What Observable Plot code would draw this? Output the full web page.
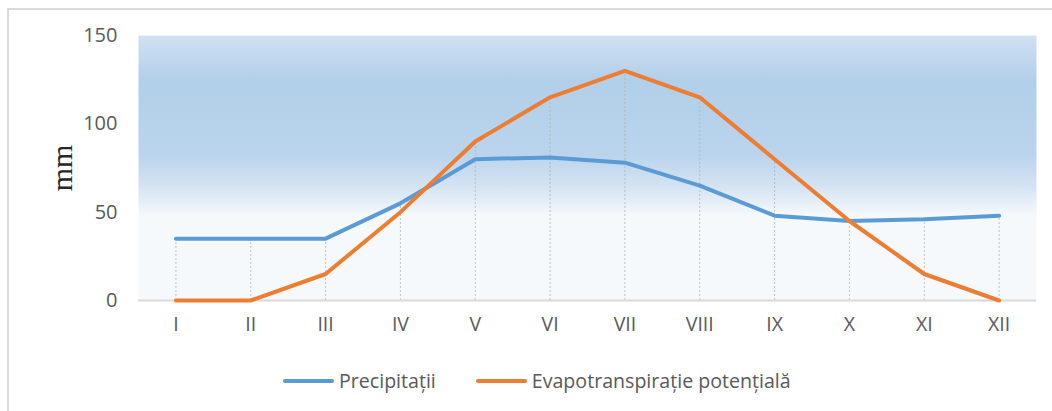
<!DOCTYPE html>
<html>
<head>
<meta charset="utf-8">
<script src="https://cdn.jsdelivr.net/npm/d3@7"></script>
<script src="https://cdn.jsdelivr.net/npm/@observablehq/plot@0.6"></script>
<style>
  html, body { margin: 0; padding: 0; background: #fff; }
  #wrap { position: relative; width: 1052px; height: 411px; overflow: hidden; }
  #border { position: absolute; left: 7px; top: 8px; right: -4px; bottom: -4px; border-left: 2px solid #d9d9d9; border-top: 2px solid #d9d9d9; }
  #chart { position: absolute; left: 0; top: 0; }
  #legend { position: absolute; left: 283px; top: 367px; display: flex; font-family: "Open Sans", sans-serif; font-size: 19.6px; color: #595959; }
  .item { display: flex; align-items: center; margin-right: 40px; }
  .sw { width: 51px; height: 4px; border-radius: 2px; margin-right: 5px; }
</style>
</head>
<body>
<div id="wrap">
  <div id="border"></div>
  <div id="chart"></div>
  <div id="legend"></div>
</div>
<script>
const months = ["I","II","III","IV","V","VI","VII","VIII","IX","X","XI","XII"];
const precipitatii = [35, 35, 35, 55, 80, 81, 78, 65, 48, 45, 46, 48];
const evapotranspiratie = [0, 0, 15, 50, 90, 115, 130, 115, 80, 45, 15, 0];
const seriesNames = ["Precipitații", "Evapotranspirație potențială"];
const seriesColors = ["#5b9bd5", "#ed7d31"];
const yTicks = [0, 50, 100, 150];

const rows = months.map((m, i) => ({month: m, p: precipitatii[i], e: evapotranspiratie[i], top: Math.max(precipitatii[i], evapotranspiratie[i])}));

const plot = Plot.plot({
  width: 1052,
  height: 345,
  marginLeft: 138,
  marginRight: 16,
  marginTop: 35,
  marginBottom: 45,
  style: {fontFamily: "'Open Sans', sans-serif", fontSize: "19px", color: "#595959", background: "transparent"},
  x: {type: "point", domain: months, padding: 0.5, round: false, label: null},
  y: {domain: [0, 150], label: null},
  marks: [
    Plot.frame({fill: "url(#bgGrad)", stroke: "none"}),
    Plot.ruleX(rows, {x: "month", y1: 0, y2: "top", stroke: "#b0b0b0", strokeWidth: 1, strokeDasharray: "2,2", strokeOpacity: 0.75}),
    Plot.ruleY([0], {stroke: "#d9d9d9", strokeWidth: 2}),
    Plot.axisY({ticks: yTicks, tickSize: 0, tickPadding: 21, fill: "#595959", fontSize: 20}),
    Plot.axisX({tickSize: 0, tickPadding: 17, fill: "#595959", fontSize: 19.5}),
    Plot.line(rows, {x: "month", y: "p", stroke: seriesColors[0], strokeWidth: 4, strokeLinecap: "round", strokeLinejoin: "round"}),
    Plot.line(rows, {x: "month", y: "e", stroke: seriesColors[1], strokeWidth: 4, strokeLinecap: "round", strokeLinejoin: "round"}),
    Plot.text(["mm"], {frameAnchor: "left", textAnchor: "middle", dx: -76, rotate: -90, fontFamily: "'Liberation Serif', serif", fontSize: 30, fill: "#262626"})
  ]
});

const ns = "http://www.w3.org/2000/svg";
const defs = document.createElementNS(ns, "defs");
const grad = document.createElementNS(ns, "linearGradient");
grad.setAttribute("id", "bgGrad");
grad.setAttribute("x1", "0"); grad.setAttribute("y1", "0");
grad.setAttribute("x2", "0"); grad.setAttribute("y2", "1");
[["0%", "#cfe1f2"], ["17%", "#b2cfe9"], ["45%", "#bad4ec"], ["58%", "#d7e5f3"], ["68%", "#f5f9fc"], ["100%", "#f5f9fc"]].forEach(([o, c]) => {
  const s = document.createElementNS(ns, "stop");
  s.setAttribute("offset", o); s.setAttribute("stop-color", c);
  grad.appendChild(s);
});
defs.appendChild(grad);
plot.insertBefore(defs, plot.firstChild);
document.getElementById("chart").appendChild(plot);

const legend = document.getElementById("legend");
seriesNames.forEach((n, i) => {
  const it = document.createElement("div"); it.className = "item";
  const sw = document.createElement("div"); sw.className = "sw"; sw.style.background = seriesColors[i];
  const tx = document.createElement("span"); tx.textContent = n;
  it.appendChild(sw); it.appendChild(tx); legend.appendChild(it);
});
</script>
</body>
</html>
